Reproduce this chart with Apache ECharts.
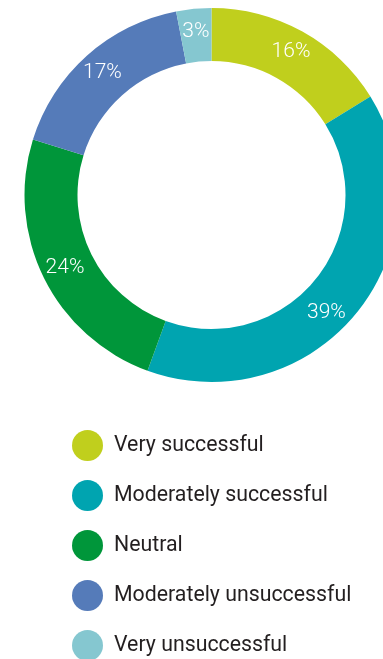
<!DOCTYPE html>
<html>
<head>
<meta charset="utf-8">
<script src="https://cdn.jsdelivr.net/npm/echarts@6/dist/echarts.min.js"></script>
<style>
html,body{margin:0;padding:0;background:#fff;}
#chart{width:383px;height:659px;}
</style>
</head>
<body>
<div id="chart"></div>
<script>
const categories = ["Very successful", "Moderately successful", "Neutral", "Moderately unsuccessful", "Very unsuccessful"];
const values = [16, 39, 24, 17, 3];
const colors = ["#c0cf1d", "#00a4b0", "#00963a", "#557bb9", "#85c7d0"];

const chart = echarts.init(document.getElementById('chart'), null, {renderer: 'canvas'});
chart.setOption({
  animation: false,
  color: colors,
  legend: {
    orient: 'vertical',
    left: 72,
    top: 430,
    height: 300,
    padding: 0,
    icon: 'circle',
    itemWidth: 31,
    itemHeight: 31,
    itemGap: 19,
    selectedMode: false,
    data: categories,
    textStyle: {
      fontFamily: 'Roboto',
      fontSize: 21.3,
      color: '#231f20',
      padding: [6, 0, 0, 6]
    }
  },
  series: [{
    type: 'pie',
    center: [211.5, 195],
    radius: [134, 187],
    startAngle: 90,
    clockwise: true,
    avoidLabelOverlap: false,
    silent: true,
    itemStyle: {borderWidth: 0},
    label: {
      show: true,
      position: 'inside',
      formatter: '{c}%',
      color: '#ffffff',
      fontFamily: 'Roboto',
      fontWeight: 300,
      fontSize: 21
    },
    labelLine: {show: false},
    data: categories.map((n, i) => {
      const d = {name: n, value: values[i]};
      if (i === 1) d.label = {offset: [-12, 15]};
      return d;
    })
  }]
});
</script>
</body>
</html>
